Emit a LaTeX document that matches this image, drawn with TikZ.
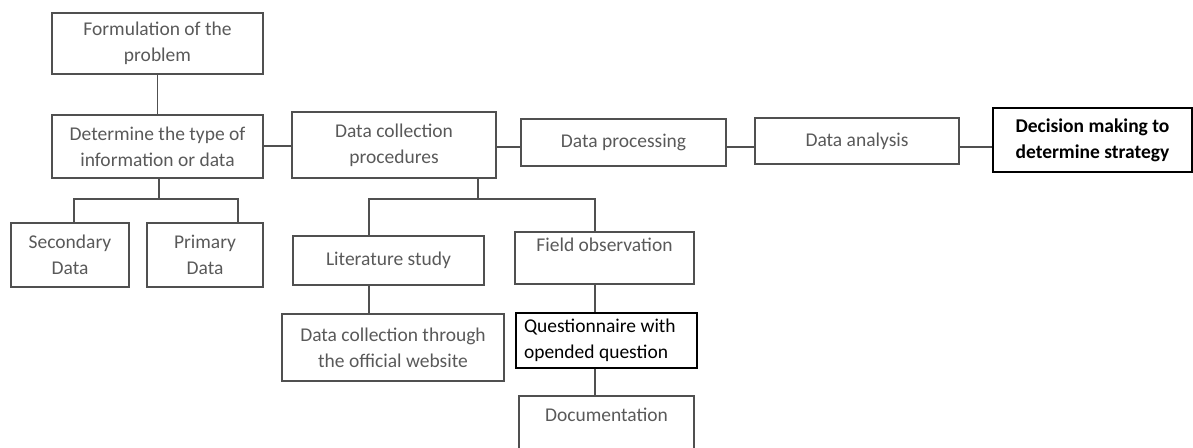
\documentclass[tikz,border=0pt]{standalone}
\usepackage{fontspec}
\setmainfont{Carlito}
\usetikzlibrary{%
	calc,%
	positioning,%
}
\definecolor{cline}{RGB}{80, 80, 80}
\definecolor{ctext}{RGB}{89, 89, 89}
\tikzset{
	nodes={align=center},%
	stage/.style={%
			draw=cline,%
			rectangle,%
			line width=1.1pt,%
			text=ctext,%
			inner sep=0},%
	keystage/.style={%
			draw=black,%
			rectangle,%
			line width=1.1pt,%
			text=black,%
			inner sep=0},%
	link/.style={%
			draw=cline,%
			line width=1.1pt},%
}
\begin{document}
\begin{tikzpicture}[x=1pt, y=-1pt, nodes={font={\fontsize{19.5}{26}\selectfont}}]%
	\useasboundingbox (0,0) rectangle (1193,447);

	\node[stage, minimum width=211pt, minimum height=61pt] (form) at (157.5,43.5) {Formulation of the\\problem};
	\node[stage, minimum width=211pt, minimum height=63pt] (det) at (157.5,146.5) {Determine the type of\\information or data};
	\node[stage, minimum width=118pt, minimum height=64pt] (sec) at (70,255) {Secondary\\Data};
	\node[stage, minimum width=116pt, minimum height=64pt] (prim) at (205,255) {Primary\\Data};

	\node[stage, minimum width=204pt, minimum height=66pt] (coll) at (394,145) {Data collection\\procedures};
	\node[stage, minimum width=205pt, minimum height=47pt] (proc) at (623.5,142.5) {Data processing};
	\node[stage, minimum width=204pt, minimum height=46pt] (anal) at (857,141) {Data analysis};
	\node[keystage, minimum width=199pt, minimum height=64pt, font={\fontsize{19.5}{26}\selectfont\bfseries}] (dec) at (1092.5,140) {Decision making to\\determine strategy};

	\node[stage, minimum width=191pt, minimum height=49pt] (lit) at (388.5,260.5) {Literature study};
	\node[stage, minimum width=179pt, minimum height=52pt] (field) at (604.5,258) {Field observation\\\mbox{}};
	\node[stage, minimum width=222pt, minimum height=67pt] (web) at (393,347.5) {Data collection through\\the official website};
	\node[keystage, align=flush left, minimum width=181pt, minimum height=55pt, text width=165pt] (quest) at (606.5,340.5) {Questionnaire with\\opended question};
	\node[stage, minimum width=175pt, minimum height=64pt] (doc) at (606.5,428) {Documentation\\\mbox{}};

	\coordinate (jdet) at (159,199);
	\coordinate (jcoll) at (478,199);

	\draw[link] (form) -- (det);
	\draw[link] (det.east |- 0,146) -- (coll.west |- 0,146);
	\draw[link] (coll.east |- 0,147) -- (proc.west |- 0,147);
	\draw[link] (proc.east |- 0,147) -- (anal.west |- 0,147);
	\draw[link] (anal.east |- 0,147) -- (dec.west |- 0,147);
	\draw[link] (det.south -| jdet) -- (jdet);
	\draw[link] ([xshift=4pt]sec.north) |- (jdet) -| ([xshift=33pt]prim.north);
	\draw[link] (coll.south -| jcoll) -- (jcoll);
	\draw[link] ([xshift=-19.5pt]lit.north) |- (jcoll) -| ([xshift=-9.5pt]field.north);
	\draw[link] ([xshift=-19.5pt]lit.south) -- ([xshift=-24pt]web.north);
	\draw[link] ([xshift=-9.5pt]field.south) -- ([xshift=-11.5pt]quest.north);
	\draw[link] ([xshift=-11.5pt]quest.south) -- ([xshift=-11.5pt]doc.north);
\end{tikzpicture}
\end{document}
